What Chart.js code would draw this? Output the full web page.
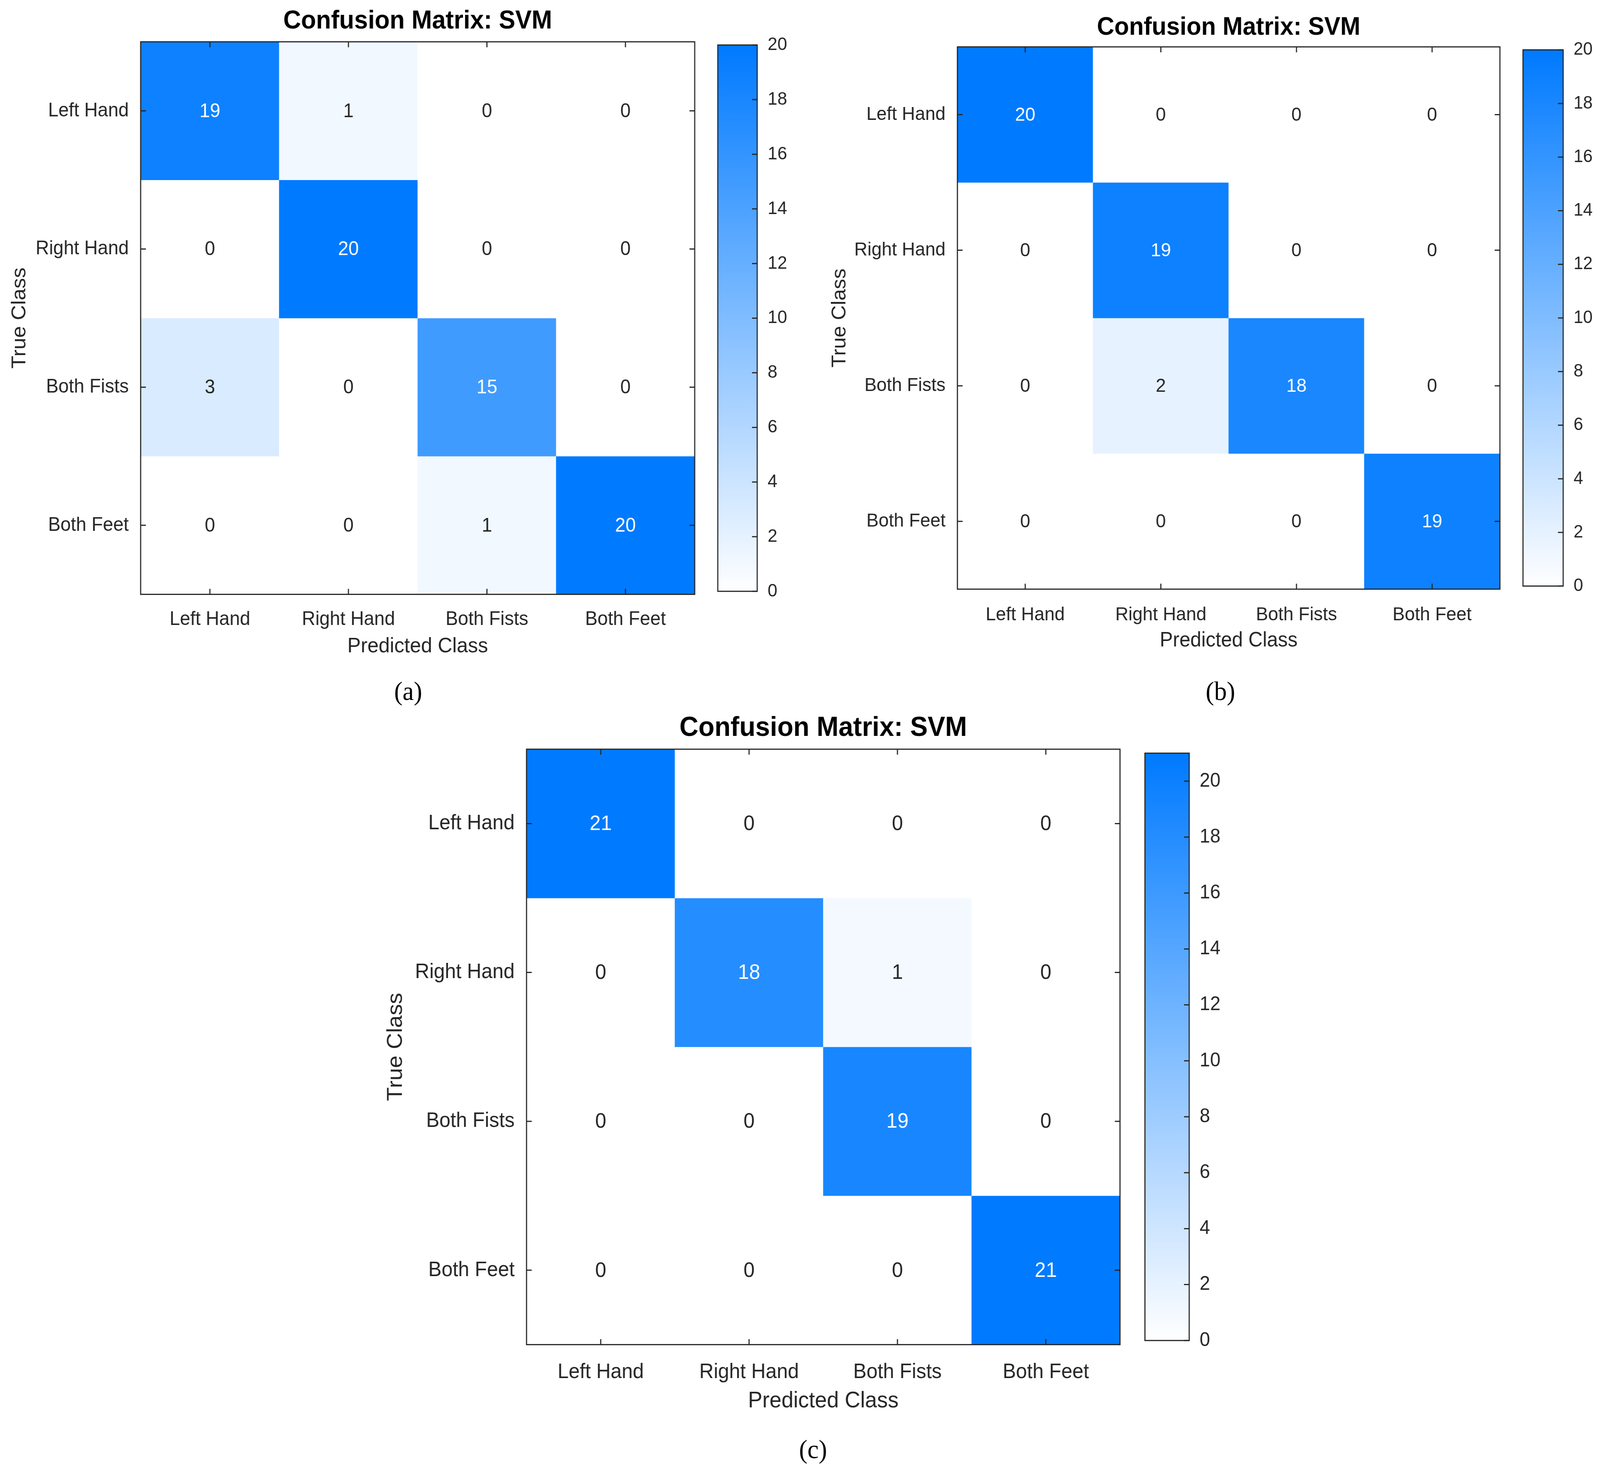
<!DOCTYPE html>
<html>
<head>
<meta charset="utf-8">
<script src="https://cdn.jsdelivr.net/npm/chart.js@4.4.0/dist/chart.umd.min.js"></script>
<style>
  html, body { margin: 0; padding: 0; background: #fff; overflow: hidden; }
  #page { position: absolute; left: 0; top: 0; width: 4300px; height: 3771px; transform-origin: 0 0; background: #fff; }
  canvas { position: absolute; }
  .cap { position: absolute; font-family: 'Liberation Serif', 'DejaVu Serif', serif; font-size: 68px; color: #000; transform: translate(-50%, -50%); }
</style>
</head>
<body>
<div id="page"></div>
<script>
// class names (same for rows and columns)
const classes = ['Left Hand', 'Right Hand', 'Both Fists', 'Both Feet'];

// confusion matrices, rows = true class, columns = predicted class
const cmA = [[19, 1, 0, 0], [0, 20, 0, 0], [3, 0, 15, 0], [0, 0, 1, 20]];
const cmB = [[20, 0, 0, 0], [0, 19, 0, 0], [0, 2, 18, 0], [0, 0, 0, 19]];
const cmC = [[21, 0, 0, 0], [0, 18, 1, 0], [0, 0, 19, 0], [0, 0, 0, 21]];

// colorbar limits and tick labels
const cbarMax = [20, 20, 21];
const cbarTicks = [0, 2, 4, 6, 8, 10, 12, 14, 16, 18, 20];

const titleText = 'Confusion Matrix: SVM';
const captions = ['(a)', '(b)', '(c)'];

const FONT = "'Liberation Sans', Arial, sans-serif";
const INK = '#262626';
Chart.defaults.font.family = FONT;
Chart.defaults.color = INK;

// the layout below is in 4300x3771 units, stretch it onto the viewport we get
const page = document.getElementById('page');
const sx = window.innerWidth / 4300;
const sy = window.innerHeight / 3771;
page.style.transform = `scale(${sx}, ${sy})`;

function colorFor(v, max) {
  const t = v / max;
  return `rgb(${Math.round(255 - 255 * t)}, ${Math.round(255 - 133 * t)}, 255)`;
}

// value text inside each cell
const cellText = {
  id: 'cellText',
  afterDatasetsDraw(chart, args, opts) {
    const c = chart.ctx;
    c.save();
    c.font = `${opts.size}px ${FONT}`;
    c.textAlign = 'center';
    c.textBaseline = 'middle';
    chart.data.datasets.forEach((ds, i) => {
      chart.getDatasetMeta(i).data.forEach((el, j) => {
        const v = opts.matrix[i][j];
        c.fillStyle = v / opts.max > 0.5 ? '#fff' : INK;
        c.fillText(String(v), el.x, (el.y + el.base) / 2 + 2);
      });
    });
    c.restore();
  }
};

// box around the plot and inward tick marks (matlab style)
const frame = {
  id: 'frame',
  afterDraw(chart, args, opts) {
    const a = chart.chartArea;
    const c = chart.ctx;
    const t = opts.tick;
    c.save();
    c.strokeStyle = INK;
    c.lineWidth = 3;
    c.beginPath();
    if (opts.xTicks) {
      chart.scales.x.ticks.forEach((tk, i) => {
        const px = chart.scales.x.getPixelForTick(i);
        c.moveTo(px, a.bottom); c.lineTo(px, a.bottom - t);
        c.moveTo(px, a.top); c.lineTo(px, a.top + t);
      });
    }
    chart.scales.y.ticks.forEach((tk) => {
      const py = chart.scales.y.getPixelForValue(tk.value);
      if (opts.left) { c.moveTo(a.left, py); c.lineTo(a.left + t, py); }
      c.moveTo(a.right, py); c.lineTo(a.right - t, py);
    });
    c.stroke();
    c.strokeRect(a.left, a.top, a.right - a.left, a.bottom - a.top);
    c.restore();
  }
};

const panels = [
  { cm: cmA, max: cbarMax[0], s: 1.0, L: 378, R: 1867, T: 107, B: 1522, titleY: 55, trueX: 53, xLabY: 1579, predY: 1656, cbL: 1929, cbR: 2035, cap: captions[0], capX: 1097, capY: 1769 },
  { cm: cmB, max: cbarMax[1], s: 0.98, L: 2573, R: 4031, T: 120, B: 1508, titleY: 71, trueX: 2257, xLabY: 1566, predY: 1640, cbL: 4093, cbR: 4201, cap: captions[1], capX: 3280, capY: 1769 },
  { cm: cmC, max: cbarMax[2], s: 1.07, L: 1415, R: 3010, T: 1918, B: 3442, titleY: 1865, trueX: 1064, xLabY: 3505, predY: 3587, cbL: 3077, cbR: 3196, cap: captions[2], capX: 2185, capY: 3710 }
];

function addCanvas(left, top, w, h) {
  const cv = document.createElement('canvas');
  cv.width = w; cv.height = h;
  cv.style.left = left + 'px'; cv.style.top = top + 'px';
  cv.style.width = w + 'px'; cv.style.height = h + 'px';
  page.appendChild(cv);
  return cv;
}

panels.forEach((p) => {
  const tickFs = 50 * p.s, axFs = 54 * p.s, titleFs = 66 * p.s, cellFs = 50 * p.s, cbFs = 47 * p.s;
  const titleLh = titleFs * 1.2, axLh = axFs * 1.2, tickLh = tickFs * 1.2;

  // heatmap
  const cl = p.trueX - 45;
  const ct = p.titleY - 50;
  const yW = p.L - cl;
  const xH = p.predY - p.B + axLh / 2;
  const cv = addCanvas(cl, ct, p.R - cl + 4, Math.round(p.B + xH - ct));

  new Chart(cv.getContext('2d'), {
    type: 'bar',
    data: {
      labels: classes,
      datasets: p.cm.map((row, r) => ({
        data: row.map(() => [r, r + 1]),
        backgroundColor: row.map((v) => colorFor(v, p.max)),
        borderWidth: 0,
        grouped: false,
        barPercentage: 1,
        categoryPercentage: 1
      }))
    },
    options: {
      responsive: false,
      animation: false,
      devicePixelRatio: 1,
      layout: { padding: { right: 4 } },
      plugins: {
        legend: { display: false },
        tooltip: { enabled: false },
        title: {
          display: true,
          fullSize: false,
          text: titleText,
          color: '#000',
          font: { size: titleFs, weight: 'bold', lineHeight: 1.2 },
          padding: { top: 50 - titleLh / 2, bottom: p.T - p.titleY - titleLh / 2 }
        },
        cellText: { matrix: p.cm, max: p.max, size: cellFs },
        frame: { tick: 14, xTicks: true, left: true }
      },
      scales: {
        x: {
          type: 'category',
          grid: { display: false },
          border: { display: false },
          ticks: { font: { size: tickFs }, padding: p.xLabY - p.B - tickLh / 2, maxRotation: 0, autoSkip: false },
          title: { display: true, text: 'Predicted Class', font: { size: axFs, lineHeight: 1.2 }, padding: 0 },
          afterFit: (s) => { s.height = xH; }
        },
        y: {
          type: 'linear',
          min: 0,
          max: classes.length,
          reverse: true,
          grid: { display: false },
          border: { display: false },
          afterBuildTicks: (s) => { s.ticks = classes.map((c, i) => ({ value: i + 0.5 })); },
          ticks: { font: { size: tickFs }, padding: 24, callback: (v) => classes[Math.floor(v)] },
          title: { display: true, text: 'True Class', font: { size: axFs, lineHeight: 1.2 }, padding: { top: 45 - axLh / 2, bottom: 0 } },
          afterFit: (s) => { s.width = yW; }
        }
      }
    },
    plugins: [cellText, frame]
  });

  // colorbar
  const cbCanvas = addCanvas(p.cbL - 4, p.T - 40, p.cbR - p.cbL + 4 + 140, p.B - p.T + 80);
  new Chart(cbCanvas.getContext('2d'), {
    type: 'bar',
    data: {
      labels: [''],
      datasets: [{
        data: [[0, p.max]],
        backgroundColor: (ctx) => {
          const a = ctx.chart.chartArea;
          if (!a) return colorFor(p.max, p.max);
          const g = ctx.chart.ctx.createLinearGradient(0, a.bottom, 0, a.top);
          g.addColorStop(0, colorFor(0, p.max));
          g.addColorStop(1, colorFor(p.max, p.max));
          return g;
        },
        borderWidth: 0,
        barPercentage: 1,
        categoryPercentage: 1
      }]
    },
    options: {
      responsive: false,
      animation: false,
      devicePixelRatio: 1,
      layout: { padding: { top: 40, bottom: 40, left: 4, right: 0 } },
      plugins: {
        legend: { display: false },
        tooltip: { enabled: false },
        frame: { tick: 14, xTicks: false, left: false }
      },
      scales: {
        x: { display: false },
        y: {
          position: 'right',
          min: 0,
          max: p.max,
          grid: { display: false },
          border: { display: false },
          afterBuildTicks: (s) => { s.ticks = cbarTicks.map((v) => ({ value: v })); },
          ticks: { font: { size: cbFs }, padding: 20 },
          afterFit: (s) => { s.width = 140; }
        }
      }
    },
    plugins: [frame]
  });

  const cap = document.createElement('div');
  cap.className = 'cap';
  cap.textContent = p.cap;
  cap.style.left = p.capX + 'px';
  cap.style.top = p.capY + 'px';
  page.appendChild(cap);
});
</script>
</body>
</html>
